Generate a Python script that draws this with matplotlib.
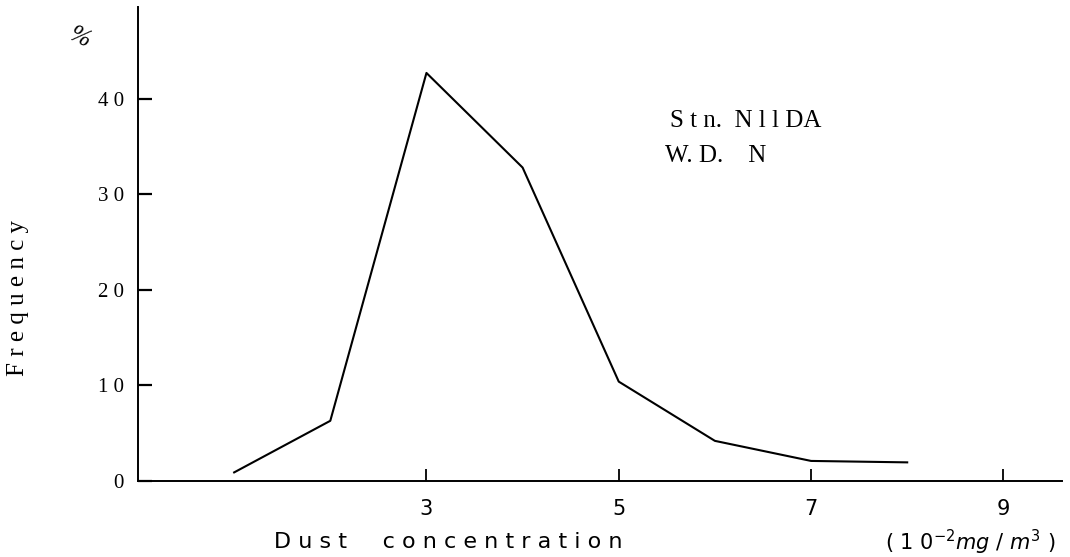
import matplotlib
matplotlib.use("Agg")
import matplotlib.pyplot as plt

# Data
concentration = [1, 2, 3, 4, 5, 6, 7, 8]          # 10^-2 mg/m^3
frequency = [0.9, 6.3, 42.7, 32.8, 10.4, 4.2, 2.1, 1.95]  # %
x_ticks = [3, 5, 7, 9]
x_tick_labels = ["3", "5", "7", "9"]
y_ticks = [0, 10, 20, 30, 40]
y_tick_labels = ["0", "1 0", "2 0", "3 0", "4 0"]

W, H = 1070, 557
fig = plt.figure(figsize=(W / 100, H / 100), dpi=100)
ax = fig.add_axes([138 / W, 1 - 481 / H, (1062 - 138) / W, (481 - 7) / H])

ax.plot(concentration, frequency, color="black", linewidth=1.5)

ax.set_xlim(0, 9.61)
ax.set_ylim(0, 49.6)
for s in ["top", "right"]:
    ax.spines[s].set_visible(False)
for s in ["left", "bottom"]:
    ax.spines[s].set_linewidth(1.4)

serif = "Liberation Serif"
sans = "DejaVu Sans"
ax.set_xticks(x_ticks)
ax.set_xticklabels(x_tick_labels, family=sans, fontsize=15)
ax.set_yticks(y_ticks)
ax.set_yticklabels(y_tick_labels, family=serif, fontsize=15)
ax.tick_params(axis="x", direction="in", length=9, width=1.3, pad=13)
ax.tick_params(axis="y", direction="in", length=10, width=1.6, pad=10)

# Axis labels
fig.text(18 / W, 1 - 298 / H, "F r e q u e n c y", rotation=90, ha="center", va="center",
         fontfamily=serif, fontsize=18)
fig.text(80 / W, 1 - 38 / H, "%", ha="center", va="center", fontfamily=serif,
         fontsize=18, style="italic", rotation=-25)
fig.text(622 / W, 1 - 542 / H, "D u s t     c o n c e n t r a t i o n", ha="right", va="center",
         family=sans, fontsize=16)
fig.text(970 / W, 1 - 542 / H, r"( 1 0$^{-2}$$\it{mg}$ / $\it{m}^{3}$ )", ha="center", va="center",
         family=sans, fontsize=15)

# Station annotation
fig.text(670 / W, 1 - 121 / H, "S t n.  N l l DA", ha="left", va="center",
         fontfamily=serif, fontsize=18)
fig.text(665 / W, 1 - 156 / H, "W. D.    N", ha="left", va="center",
         fontfamily=serif, fontsize=18)

fig.savefig("out.png", dpi=100)
